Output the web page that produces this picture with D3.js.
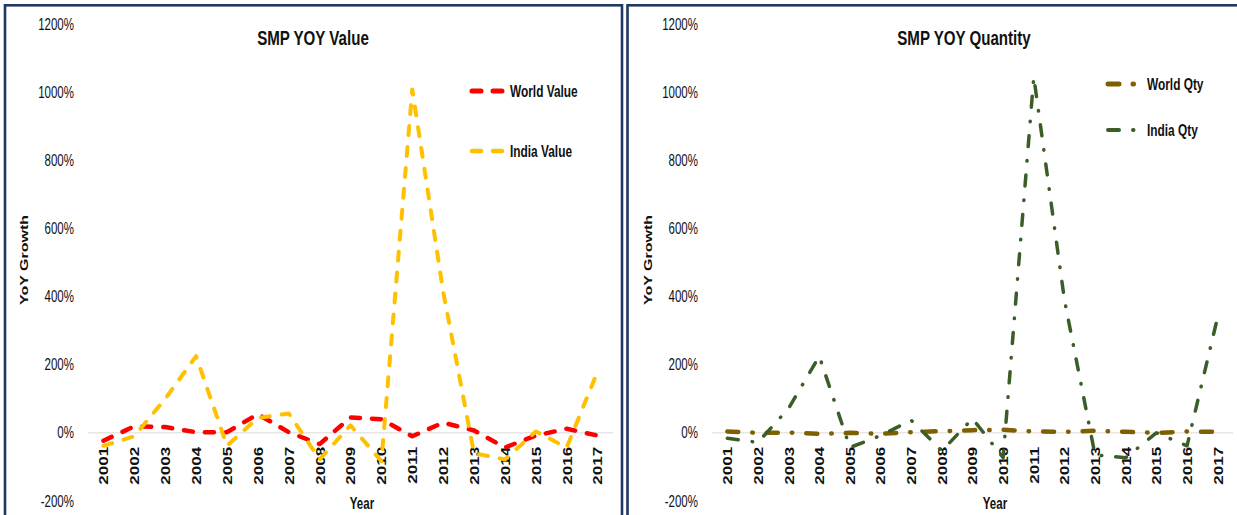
<!DOCTYPE html>
<html>
<head>
<meta charset="utf-8">
<script src="https://cdn.jsdelivr.net/npm/d3@7"></script>
<style>
  html, body { margin: 0; padding: 0; background: #ffffff; }
  svg { display: block; font-family: "Liberation Sans", Arial, sans-serif; }
</style>
</head>
<body>
<svg id="chart" width="1237" height="515"></svg>
<script>
// Years on the category axis
const years = ["2001","2002","2003","2004","2005","2006","2007","2008","2009",
               "2010","2011","2012","2013","2014","2015","2016","2017"];

// Year-on-year growth of SMP exports, in percent
const worldValue = [-23, 19, 17, 2, 2, 55, 2, -33, 45, 40, -10, 30, 7, -43, -8, 12, -8];
const indiaValue = [-38, -10, 100, 225, -38, 44, 57, -78, 22, -83, 1008, 415, -60, -78, 4, -43, 180];
const worldQty   = [4, 0, 1, -3, 0, -3, 2, 5, 8, 9, 4, 3, 6, 3, 0, 4, 3];
const indiaQty   = [-16, -28, 72, 225, -43, -8, 37, -53, 42, -73, 1045, 390, -65, -73, 0, -38, 340];

const yTicks = [-200, 0, 200, 400, 600, 800, 1000, 1200];

const SQ = 0.72;              // horizontal squeeze applied to all text
const NAVY = "#1F3864";
const svg = d3.select("#chart");

// Panel frames
svg.append("rect").attr("x", 5).attr("y", 5.3).attr("width", 617).attr("height", 600)
  .attr("fill", "none").attr("stroke", NAVY).attr("stroke-width", 2.6);
svg.append("rect").attr("x", 627.5).attr("y", 5.3).attr("width", 700).attr("height", 600)
  .attr("fill", "none").attr("stroke", NAVY).attr("stroke-width", 2.6);

function squeezedText(g, x, y, str, opts) {
  return g.append("text")
    .attr("transform", `translate(${x},${y}) scale(${SQ},1)` + (opts.rotate ? " rotate(-90)" : ""))
    .attr("text-anchor", opts.anchor || "middle")
    .attr("dy", opts.dy || "0.35em")
    .attr("font-size", opts.size)
    .attr("font-weight", opts.weight || "normal")
    .attr("fill", opts.fill || "#111")
    .text(str);
}

function drawPanel(cfg) {
  const g = svg.append("g");
  const x = d3.scalePoint().domain(years).range([cfg.x0, cfg.x1]).padding(0.5);
  const y = d3.scaleLinear().domain([-200, 1200]).range([501, 24]);

  // zero gridline
  g.append("line")
    .attr("x1", cfg.x0).attr("x2", cfg.x1)
    .attr("y1", y(0)).attr("y2", y(0))
    .attr("stroke", "#D9D9D9").attr("stroke-width", 1);

  // y axis labels
  const ya = g.append("g").attr("transform", `translate(${cfg.x0},0)`)
    .call(d3.axisLeft(y).tickValues(yTicks).tickSize(0).tickFormat(d => d + "%"));
  ya.select(".domain").remove();
  ya.selectAll("text")
    .attr("x", 0)
    .attr("transform", `translate(-14,0) scale(${SQ},1)`)
    .attr("font-family", "Liberation Sans, Arial, sans-serif")
    .attr("font-size", 16)
    .attr("fill", "#111");

  // x axis labels (rotated years)
  const xa = g.append("g").attr("transform", `translate(0,${y(0)})`)
    .call(d3.axisBottom(x).tickSize(0));
  xa.select(".domain").remove();
  xa.selectAll("text")
    .attr("x", 0).attr("y", 0)
    .attr("dy", "0.36em")
    .attr("text-anchor", "end")
    .attr("transform", `translate(0,14) scale(${SQ},1) rotate(-90)`)
    .attr("font-family", "Liberation Sans, Arial, sans-serif")
    .attr("font-size", 17)
    .attr("font-weight", "bold")
    .attr("fill", "#111");

  // titles
  squeezedText(g, cfg.titleX, 38, cfg.title, { size: 21, weight: "bold" });
  squeezedText(g, cfg.yTitleX, 260, "YoY Growth", { size: 16, weight: "bold", rotate: true });
  squeezedText(g, cfg.xTitleX, 503, "Year", { size: 16, weight: "bold" });

  // series lines
  const line = d3.line().x((d, i) => x(years[i])).y(d => y(d));
  cfg.series.forEach(s => {
    g.append("path")
      .datum(s.values)
      .attr("d", line)
      .attr("fill", "none")
      .attr("stroke", s.color)
      .attr("stroke-width", s.width)
      .attr("stroke-dasharray", s.dash)
      .attr("stroke-linecap", "round")
      .attr("stroke-linejoin", "round");

    g.append("line")
      .attr("x1", s.legX1).attr("x2", s.legX2)
      .attr("y1", s.legY).attr("y2", s.legY)
      .attr("stroke", s.color)
      .attr("stroke-width", s.width + 0.5)
      .attr("stroke-dasharray", s.dash)
      .attr("stroke-linecap", "round");
    squeezedText(g, s.legTextX, s.legY, s.name, { size: 16.5, weight: "bold", anchor: "start" });
  });
}

drawPanel({
  x0: 88, x1: 613,
  title: "SMP YOY Value", titleX: 313, yTitleX: 24, xTitleX: 362,
  series: [
    { name: "World Value", values: worldValue, color: "#FF0000", width: 4.5, dash: "9,12",
      legX1: 472, legX2: 505, legY: 91, legTextX: 510 },
    { name: "India Value", values: indiaValue, color: "#FFC000", width: 4, dash: "9,12",
      legX1: 472, legX2: 505, legY: 151, legTextX: 510 }
  ]
});

drawPanel({
  x0: 712, x1: 1233,
  title: "SMP YOY Quantity", titleX: 964, yTitleX: 648, xTitleX: 995,
  series: [
    { name: "World Qty", values: worldQty, color: "#7F6000", width: 4.5, dash: "11,14,0.5,14",
      legX1: 1108, legX2: 1135, legY: 84, legTextX: 1147 },
    { name: "India Qty", values: indiaQty, color: "#3B5E29", width: 3.5, dash: "11,14,0.5,14",
      legX1: 1108, legX2: 1135, legY: 130, legTextX: 1147 }
  ]
});
</script>
</body>
</html>
